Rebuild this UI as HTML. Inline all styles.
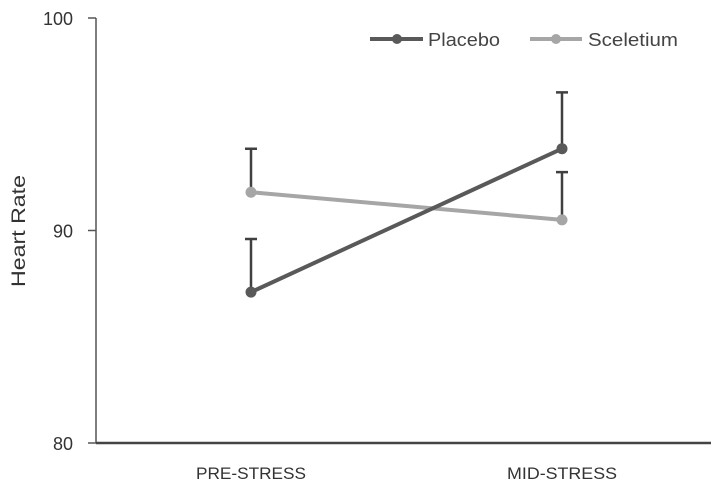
<!DOCTYPE html>
<html><head><meta charset="utf-8"><style>
body{margin:0;background:#fff;}
svg{display:block;font-family:"Liberation Sans",sans-serif;}
</style></head><body>
<svg id="chart" width="711" height="486">
<g id="axes"></g><g id="series"></g>
<text transform="translate(25,231) rotate(-90)" text-anchor="middle" font-size="19" fill="#333" textLength="112" lengthAdjust="spacingAndGlyphs">Heart Rate</text>
<g>
<g>
<line x1="370" y1="39" x2="423" y2="39" stroke="#595959" stroke-width="4"/><circle cx="397" cy="39" r="5" fill="#595959"/>
<text x="428" y="46" font-size="18" fill="#444" textLength="72" lengthAdjust="spacingAndGlyphs">Placebo</text></g>
<g>
<line x1="530" y1="39" x2="582" y2="39" stroke="#a6a6a6" stroke-width="4"/><circle cx="556" cy="39" r="5" fill="#a6a6a6"/>
<text x="588" y="46" font-size="18" fill="#444" textLength="90" lengthAdjust="spacingAndGlyphs">Sceletium</text></g>
</g>
</svg>
<script>
const categories=["PRE-STRESS","MID-STRESS"];
const placebo=[87.1,93.85];
const placeboErr=[2.5,2.65];
const sceletium=[91.8,90.5];
const sceletiumErr=[2.05,2.25];
const yTicks=[80,90,100];
const NS="http://www.w3.org/2000/svg";
const y=v=>443-(v-80)*21.25;
const x=i=>251+i*311;
function mk(t,a,p){const e=document.createElementNS(NS,t);for(const k in a)e.setAttribute(k,a[k]);p.appendChild(e);return e;}
const ax=document.getElementById('axes'),se=document.getElementById('series');
const yl=mk('line',{x1:96,y1:18,x2:96,y2:443,stroke:'#555','stroke-width':1.5},ax);


const xl=mk('line',{x1:96,y1:443,x2:711,y2:443,stroke:'#444','stroke-width':2.5},ax);


yTicks.forEach(t=>{
 const l=mk('line',{x1:88,y1:y(t),x2:96,y2:y(t),stroke:'#555','stroke-width':1.5},ax);
 
 
 const tx=mk('text',{x:73,y:y(t)+7,'text-anchor':'end','font-size':18,fill:'#333'},ax);tx.textContent=t;
 
 
});
categories.forEach((c,i)=>{
 const tx=mk('text',{x:x(i),y:479,'text-anchor':'middle','font-size':17,fill:'#333',textLength:110,lengthAdjust:'spacingAndGlyphs'},ax);tx.textContent=c;
 
 
});
function series(vals,errs,color,name){
 const g=mk('g',{},se);
 
 
 vals.forEach((v,i)=>{
  const e=mk('path',{d:`M${x(i)},${y(v)}V${y(v+errs[i])}M${x(i)-6},${y(v+errs[i])}H${x(i)+6}`,stroke:'#404040','stroke-width':2.5,fill:'none'},g);
  
  
 });
 const l=mk('polyline',{points:vals.map((v,i)=>x(i)+','+y(v)).join(' '),stroke:color,'stroke-width':4,fill:'none'},g);
 
 
 vals.forEach((v,i)=>{
  const c=mk('circle',{cx:x(i),cy:y(v),r:5.5,fill:color},g);
  
  
 });
}
series(sceletium,sceletiumErr,'#a6a6a6','sceletium');
series(placebo,placeboErr,'#595959','placebo');
</script>
</body></html>
